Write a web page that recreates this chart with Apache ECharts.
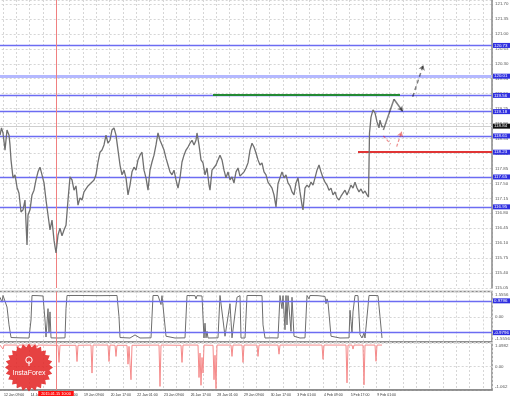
<!DOCTYPE html>
<html><head><meta charset="utf-8">
<script src="https://cdn.jsdelivr.net/npm/echarts@6/dist/echarts.min.js"></script>
<style>html,body{margin:0;padding:0;background:#fff}#c{width:510px;height:398px}</style>
</head><body><div id="c"></div>
<script>
// ---- data (x = bar index of the H1 chart, 0 = "12 Jan 09:00") ----
const timeLabels = ["12 Jan 09:00","14 Jan 17:00","16 Jan 01:00","19 Jan 09:00","20 Jan 17:00","22 Jan 01:00","23 Jan 09:00","26 Jan 17:00","28 Jan 01:00","29 Jan 09:00","30 Jan 17:00","3 Feb 01:00","4 Feb 09:00","5 Feb 17:00","9 Feb 01:00"];
const priceData = [[-3.6,118.63],[-1.8,118.80],[0,118.68],[2.4,118.28],[4.8,118.75],[7.2,118.63],[8.4,118.40],[9.6,118.05],[12,117.63],[14.4,117.70],[16.8,117.41],[19.2,117.27],[21.6,116.83],[24,116.88],[26.4,117.11],[28.8,116.06],[30,116.76],[32.4,116.88],[34.8,117.23],[37.2,117.34],[39.6,117.58],[42,117.77],[44.4,117.88],[46.8,117.70],[49.2,117.51],[51.6,117.11],[54,116.76],[56.4,116.41],[58.8,116.64],[61.2,116.17],[63.6,115.87],[66,116.29],[68.4,116.45],[70.8,116.27],[73.2,116.41],[75.6,116.52],[78,117.11],[80.4,117.65],[82.8,117.58],[85.2,117.34],[87.6,117.44],[90,116.99],[92.4,117.16],[94.8,117.11],[97.2,117.30],[99.6,117.34],[102,117.44],[104.4,117.46],[106.8,117.53],[109.2,117.58],[111.6,117.70],[114,118.00],[116.4,118.23],[118.8,118.28],[121.2,118.40],[123.6,118.63],[126,118.44],[128.4,118.51],[130.8,118.75],[133.2,118.80],[135.6,118.63],[138,118.28],[140.4,117.93],[142.8,117.70],[145.2,117.81],[147.6,117.63],[150,117.23],[152.4,117.46],[154.8,117.77],[157.2,117.88],[159.6,117.81],[162,118.05],[164.4,118.16],[166.8,118.23],[169.2,117.81],[171.6,117.63],[174,117.34],[176.4,117.81],[178.8,118.00],[181.2,118.16],[183.6,118.40],[186,118.68],[188.4,118.51],[190.8,118.40],[193.2,118.28],[195.6,118.09],[198,117.93],[200.4,117.77],[202.8,117.70],[205.2,117.81],[207.6,117.58],[210,117.39],[212.4,117.63],[214.8,118.00],[217.2,118.16],[219.6,118.28],[222,118.35],[224.4,118.44],[226.8,118.51],[229.2,118.40],[231.6,118.51],[232.8,118.68],[235.2,118.40],[237.6,118.05],[240,117.98],[242.4,117.70],[244.8,117.86],[247.2,117.46],[248.4,117.34],[250.8,117.81],[253.2,117.77],[255.6,117.93],[258,118.05],[260.4,118.16],[262.8,118.05],[265.2,117.81],[267.6,117.63],[270,117.77],[272.4,117.58],[274.8,117.65],[277.2,117.51],[279.6,117.77],[282,117.86],[284.4,117.67],[286.8,117.63],[289.2,117.77],[291.6,117.86],[294,117.98],[296.4,118.28],[298.8,118.44],[301.2,118.35],[303.6,118.21],[306,118.05],[308.4,117.93],[310.8,117.98],[313.2,117.77],[315.6,117.70],[318,117.53],[320.4,117.46],[322.8,117.39],[325.2,117.23],[327.6,116.95],[330,117.49],[332.4,117.63],[334.8,117.77],[337.2,117.63],[339.6,117.70],[342,117.51],[344.4,117.44],[346.8,117.30],[349.2,117.23],[351.6,117.51],[354,117.63],[356.4,117.30],[358.8,116.99],[360,116.88],[362.4,117.39],[364.8,117.46],[367.2,117.41],[369.6,117.53],[372,117.46],[374.4,117.63],[376.8,117.81],[379.2,117.93],[381.6,117.77],[384,117.63],[386.4,117.53],[388.8,117.46],[391.2,117.34],[393.6,117.39],[396,117.23],[398.4,117.30],[400.8,117.16],[403.2,117.11],[405.6,117.20],[408,117.27],[410.4,117.34],[412.8,117.23],[415.2,117.34],[417.6,117.46],[420,117.39],[422.4,117.53],[424.8,117.39],[427.2,117.30],[429.6,117.37],[432,117.27],[434.4,117.32],[436.8,117.23],[438.6,117.18],[439.8,118.68],[441.6,119.05],[444,119.22],[446.4,119.15],[448.8,118.94],[451.2,118.80],[452.4,118.98],[454.8,118.82],[456.4,118.84]];
const oscData = [[-3.6,1.2],[-1.8,1.31],[-1.2,0.9],[0,1.31],[2.4,1.3],[4.8,0.6],[7.2,-0.5],[9.6,-1.28],[12,-1.31],[20.4,-1.3],[31.2,-1.31],[33.6,-0.2],[34.8,1.31],[42,1.3],[48,1.28],[50.4,-0.2],[51.6,-1.25],[54,0.5],[55.2,-1.0],[56.4,0.3],[57.6,-1.3],[66,-1.31],[74.4,-1.3],[75.6,0.5],[76.8,1.31],[92.4,1.31],[116.4,1.3],[136.8,1.31],[139.2,0],[140.4,-1.28],[152.4,-1.31],[158.4,-1.12],[164.4,-1.31],[177.6,-1.3],[180,1.31],[186,1.31],[189.6,0.75],[190.8,1.3],[193.2,1.25],[195.6,-1.2],[206.4,-1.31],[218.4,-1.3],[220.8,1.31],[230.4,1.3],[231.6,1.1],[232.8,1.3],[238.8,1.28],[241.2,-1.31],[242.4,-0.4],[243.6,-1.3],[244.8,-0.9],[246,-1.31],[258,-1.3],[260.4,1.31],[262.8,1.3],[266.4,-1.2],[268.8,-1.3],[272.4,0.8],[274.8,-1.3],[280.8,1.2],[284.4,1.3],[285.6,-1.31],[290.4,-1.31],[292.8,1.31],[302.4,1.31],[310.8,1.3],[312,-0.5],[314.4,-1.31],[322.8,-1.3],[330,-1.31],[332.4,1.31],[334.8,0.5],[336,1.3],[338.4,-0.8],[339.6,1.31],[340.8,-0.5],[342,1.3],[344.4,1.31],[345.6,-0.9],[346.8,1.2],[349.2,-1.2],[356.4,-1.31],[362.4,-1.3],[364.8,1.31],[367.2,1.1],[368.4,1.31],[378,1.3],[386.4,1.25],[387.6,0.8],[388.8,1.1],[390,0.9],[393.6,-1.2],[404.4,-1.31],[415.2,-1.3],[416.4,0.4],[417.6,-0.3],[418.8,-1.0],[420,0.3],[422.4,1.31],[426,1.3],[428.4,-1.1],[430.8,-1.31],[433.2,-1.0],[434.4,-1.31],[436.8,-1.3],[439.2,1.31],[446.4,1.31],[450,1.3],[452.4,0],[454.8,-1.31]];
const spikeData = [[-3.6,0.96],[-1.2,0.96],[0,0.78],[1.2,0.96],[16.8,0.96],[18,0.86],[19.2,0.96],[39.6,0.96],[40.8,0.86],[42,0.96],[66,0.95],[67.2,0.18],[68.4,0.95],[87.6,0.95],[88.8,0.22],[90,0.95],[105.6,0.96],[106.8,-0.3],[108,0.96],[126,0.96],[127.2,0.22],[128.4,0.96],[134.4,0.95],[135.6,0.45],[136.8,0.95],[148.8,0.95],[150,0.1],[151.2,0.9],[153.6,-0.6],[154.8,0.95],[187.2,0.96],[188.4,-0.9],[189.6,0.96],[213.6,0.95],[214.8,0.18],[216,0.96],[234,0.96],[235.2,-0.5],[236.4,0.6],[237.6,-0.85],[238.8,0.4],[240,-0.3],[241.2,0.96],[252,0.95],[253.2,-0.6],[254.4,0.5],[255.6,-1.0],[256.8,0.96],[273.6,0.96],[274.8,0.45],[276,0.96],[286.8,0.96],[288,0.18],[289.2,0.96],[304.8,0.96],[306,0.45],[307.2,0.96],[330,0.96],[331.2,0.55],[332.4,0.96],[343.2,0.96],[344.4,0.87],[345.6,0.96],[382.8,0.96],[384,0.32],[385.2,0.96],[411.6,0.96],[412.8,-0.74],[414,0.96],[418.8,0.96],[420,0.78],[421.2,0.96],[432,0.96],[433.2,-0.83],[434.4,0.96],[446.4,0.96],[447.6,0.23],[448.8,0.96],[454.8,0.96]];
const blueLevels = [120.73, 119.56, 119.18, 118.61, 117.65, 116.95];
const thickLevel = 120.01;
const currentPrice = 118.84;
const redLevel = [426, 118.23];
const greenLevel = [252, 476.4, 119.57];
const blackPath = [[456.4,118.75],[469.2,119.47],[479.6,119.19]];
const blackDashed = [[491.6,119.53],[504.4,120.27]];
const redPathA = [[456.4,118.61],[465.2,118.42]];
const redPathB = [[472.4,118.36],[478.4,118.71]];
const oscLevels = [0.9796, -0.9796];
const oscRange = [-1.5556, 1.5556];
const spikeRange = [-1.062, 1.0982];
const priceTicks = [115.05, 0.35];
const cursorBar = 63.6;
const cursorLabel = '2015.01.15 10:00';

// ---- layout ----
const X_MIN = -16, X_MAX = 586.8;
const GL = -10.33, GR = 18;
const FONT = 'Liberation Sans';
const dash = {color:'#d6d6d6', type:[2,2], width:1};
const BLUE = '#6c6cf2';
const LW = 1.4;
const boxLabel = (bg, text) => ({show:true, position:'end', distance:1, formatter: text,
  backgroundColor:bg, color:'#fff', fontSize:4.4, padding:[1,3,0,1], fontFamily:FONT});

function xAxis(i, labels) {
  return {type:'value', gridIndex:i, min:X_MIN, max:X_MAX, interval:16,
    axisLine:{show:labels, onZero:false, lineStyle:{color:'#888', width:1.5}}, axisTick:{show:false},
    splitLine:{show:true, lineStyle:dash},
    axisLabel:{show:labels, align:'left', margin:3, fontSize:3.5, color:'#333', fontFamily:FONT, padding:[0,0,0,1],
      formatter: v => { const k = Math.round(v/32); return (v >= 0 && Math.abs(v-k*32) < 1e-6 && k < timeLabels.length) ? timeLabels[k] : ''; }}};
}
const cursorLine = (withLabel) => ({silent:true, symbol:'none', animation:false,
  lineStyle:{color:'#f08080', width:1, type:'solid'},
  label: withLabel ? {show:true, position:'start', distance:1, formatter: cursorLabel, backgroundColor:'#ff1010', color:'#fff', fontSize:3.8, padding:[1,3,0,3], fontFamily:FONT} : {show:false},
  data:[{xAxis:cursorBar}]});

const starPts = [];
for (let i = 0; i < 48; i++) { const a = i*Math.PI/24; const r = i%2 ? 20.5 : 24; starPts.push([29 + r*Math.cos(a), 367.5 + r*Math.sin(a)]); }

const gridBase = {left:GL, right:GR, outerBoundsMode:'none', containLabel:false};
const yLabel = {fontSize:4.4, color:'#555', margin:3, fontFamily:FONT};
const option = {
  animation:false, backgroundColor:'#fff',
  grid:[
    Object.assign({top:0, height:288}, gridBase),
    Object.assign({top:291.5, height:50.5, show:true, borderColor:'#888', borderWidth:1.5}, gridBase),
    Object.assign({top:342, height:48, show:true, borderColor:'#888', borderWidth:1.5}, gridBase)
  ],
  xAxis:[xAxis(0,false), xAxis(1,false), xAxis(2,true)],
  yAxis:[
    {type:'value', gridIndex:0, position:'right', min:priceTicks[0], max:121.794, interval:priceTicks[1],
      axisLine:{show:true, onZero:false, lineStyle:{color:'#888', width:1.5}}, axisTick:{show:false}, splitLine:{lineStyle:dash},
      axisLabel:Object.assign({showMaxLabel:false, formatter: v => v.toFixed(2)}, yLabel)},
    {type:'value', gridIndex:1, position:'right', min:oscRange[0], max:oscRange[1], interval:oscRange[1],
      axisLine:{show:false, onZero:false}, axisTick:{show:false}, splitLine:{lineStyle:dash},
      axisLabel:Object.assign({lineHeight:7, formatter: v => v > 1 ? '\n' + v.toFixed(4) : (v < -1 ? v.toFixed(4) + '\n' : '0.00')}, yLabel)},
    {type:'value', gridIndex:2, position:'right', min:spikeRange[0], max:spikeRange[1], interval:-spikeRange[0],
      axisLine:{show:false, onZero:false}, axisTick:{show:false}, splitLine:{lineStyle:dash},
      axisLabel:Object.assign({lineHeight:7,
        formatter: v => Math.abs(v - spikeRange[1]) < 1e-6 ? '\n' + spikeRange[1].toFixed(4)
          : (Math.abs(v - spikeRange[0]) < 1e-6 ? spikeRange[0].toFixed(3) + '\n' : (Math.abs(v) < 1e-9 ? '0.00' : ''))}, yLabel)}
  ],
  series:[
    {type:'line', name:'price', xAxisIndex:0, yAxisIndex:0, data:priceData, showSymbol:false,
      lineStyle:{color:'#707070', width:1.3}, z:5,
      markLine:{silent:true, symbol:'none', animation:false,
        data:[
          ...blueLevels.map(v => ({yAxis:v, lineStyle:{color:BLUE, width:LW, type:'solid'}, label:boxLabel('#2f2fe0', v.toFixed(2))})),
          {yAxis:thickLevel, lineStyle:{color:'#b4b8ff', width:3, type:'solid'}, label:boxLabel('#2f2fe0', thickLevel.toFixed(2))},
          {yAxis:currentPrice, lineStyle:{color:'#cfcfcf', width:1, type:'solid'}, label:boxLabel('#111', currentPrice.toFixed(2))},
          [{coord:[redLevel[0], redLevel[1]], lineStyle:{color:'#e03535', width:2, type:'solid'}, label:boxLabel('#2f2fe0', redLevel[1].toFixed(2))}, {coord:[X_MAX, redLevel[1]]}],
          [{coord:[greenLevel[0], greenLevel[2]], lineStyle:{color:'#238a35', width:2.2, type:'solid'}, label:{show:false}}, {coord:[greenLevel[1], greenLevel[2]]}]
        ]}},
    {type:'line', name:'cursor0', xAxisIndex:0, yAxisIndex:0, data:[], markLine:cursorLine(false)},
    {type:'lines', coordinateSystem:'cartesian2d', xAxisIndex:0, yAxisIndex:0, z:6, symbol:['none','none'],
      data:[
        {coords:[blackPath[0], blackPath[1]], lineStyle:{color:'#000', width:1.5, type:'solid'}},
        {coords:redPathA, lineStyle:{color:'#e02020', width:1.2, type:[3,2]}}
      ]},
    {type:'lines', coordinateSystem:'cartesian2d', xAxisIndex:0, yAxisIndex:0, z:6, symbol:['none','arrow'], symbolSize:5,
      data:[
        {coords:[blackPath[1], blackPath[2]], lineStyle:{color:'#000', width:1.5, type:'solid'}},
        {coords:blackDashed, lineStyle:{color:'#000', width:1.5, type:[4,3]}},
        {coords:redPathB, lineStyle:{color:'#e02020', width:1.2, type:[3,2]}}
      ]},
    {type:'line', name:'osc', xAxisIndex:1, yAxisIndex:1, data:oscData, showSymbol:false,
      lineStyle:{color:'#6e6e6e', width:1},
      markLine:{silent:true, symbol:'none', animation:false,
        data:oscLevels.map(v => ({yAxis:v, lineStyle:{color:BLUE, width:LW, type:'solid'}, label:boxLabel('#2f2fe0', v.toFixed(4))}))}},
    {type:'line', name:'cursor1', xAxisIndex:1, yAxisIndex:1, data:[], markLine:cursorLine(false)},
    {type:'line', name:'spikes', xAxisIndex:2, yAxisIndex:2, data:spikeData, showSymbol:false,
      lineStyle:{color:'#f58a8a', width:1}},
    {type:'line', name:'cursor2', xAxisIndex:2, yAxisIndex:2, data:[], markLine:cursorLine(true)}
  ],
  graphic:[
    {type:'polygon', shape:{points:starPts}, style:{fill:'rgba(226,40,40,0.88)'}, z:100},
    {type:'circle', shape:{cx:29, cy:360, r:3.2}, style:{fill:'none', stroke:'#fff', lineWidth:1}, z:101},
    {type:'line', shape:{x1:29, y1:361, x2:29, y2:366}, style:{stroke:'#fff', lineWidth:1}, z:101},
    {type:'text', x:29, y:373.5, style:{text:'InstaForex', fill:'#fff', font:'7px "Liberation Sans"', align:'center', verticalAlign:'middle'}, z:101}
  ]
};
echarts.init(document.getElementById('c')).setOption(option);
</script></body></html>
